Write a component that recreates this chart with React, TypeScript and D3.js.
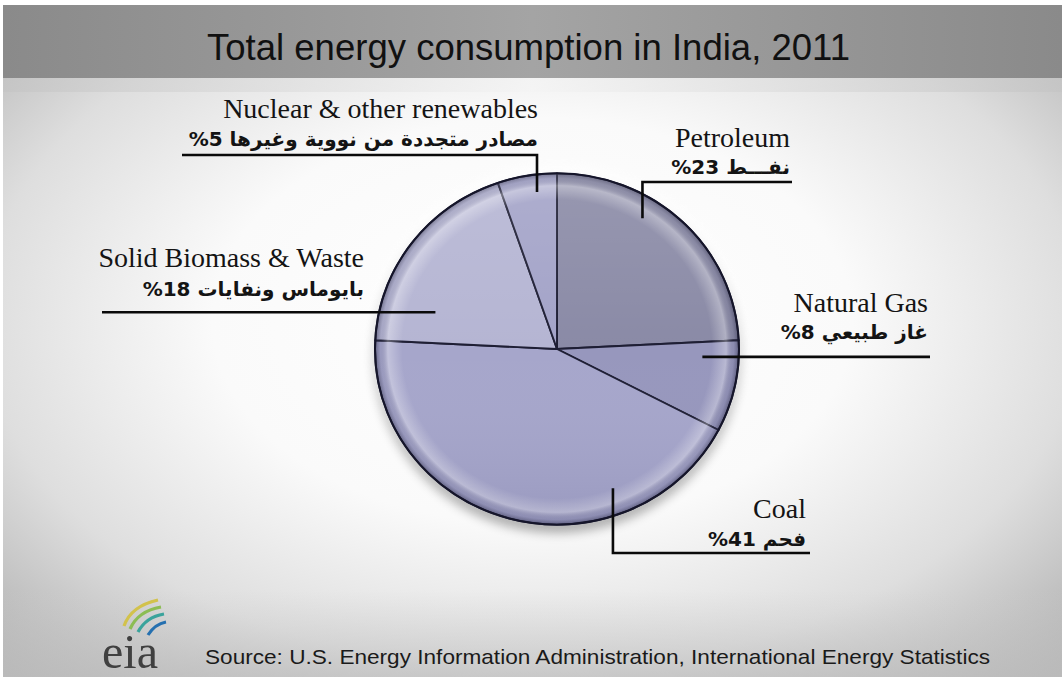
import React from "react";
import * as d3 from "d3";

// Energy mix, India 2011 (share of total consumption, %)
const categories = [
  "Petroleum",
  "Natural Gas",
  "Coal",
  "Solid Biomass & Waste",
  "Nuclear & other renewables",
];
const arabicNames = [
  "نفـــط",
  "غاز طبيعي",
  "فحم",
  "بايوماس ونفايات",
  "مصادر متجددة من نووية وغيرها",
];
const values = [23, 8, 41, 18, 5];
const sliceColors = ["#8a8aa6", "#9797bd", "#a6a6cb", "#b5b5d3", "#a3a3c8"];

const titleText = "Total energy consumption in India, 2011";
const sourceText =
  "Source: U.S. Energy Information Administration, International Energy Statistics";

const W = 1062;
const H = 677;
const cx = 557;
const cy = 349;
const R = 182;
const squash = 0.965;

// Label layout: where each leader leaves its slice (fraction across the slice,
// fraction of the radius), the leader route, and the text block position.
type Layout = {
  t: number;
  k: number;
  route: "upRight" | "right" | "downRight" | "left" | "upLeft";
  bendY?: number;
  endX: number;
  textX: number;
  line1Y: number;
  line2Y: number;
};
const layouts: Layout[] = [
  { t: 0.37, k: 0.88, route: "upRight", bendY: 182, endX: 792, textX: 790, line1Y: 147, line2Y: 174 },
  { t: 0.2, k: 0.8, route: "right", endX: 930, textX: 928, line1Y: 312, line2Y: 339 },
  { t: 0.266, k: 0.85, route: "downRight", bendY: 553, endX: 810, textX: 806, line1Y: 518, line2Y: 546 },
  { t: 0.213, k: 0.7, route: "left", endX: 102, textX: 364, line1Y: 267, line2Y: 296 },
  { t: 0.63, k: 0.9, route: "upLeft", bendY: 155, endX: 182, textX: 538, line1Y: 118, line2Y: 146 },
];

const RLM = "\u200F";

export default function App() {
  const pie = d3
    .pie<number>()
    .sort(null)
    .value((d) => d)
    .startAngle(0)
    .endAngle(2 * Math.PI);
  const arcs = pie(values);
  const arcGen = d3.arc<d3.PieArcDatum<number>>().innerRadius(0).outerRadius(R);

  const polar = (a: number, r: number): [number, number] => [
    cx + r * Math.sin(a),
    cy - r * Math.cos(a) * squash,
  ];

  const leaders = arcs.map((a, i) => {
    const L = layouts[i];
    const ang = a.startAngle + L.t * (a.endAngle - a.startAngle);
    const [x0, y0] = polar(ang, R * L.k);
    let pts: [number, number][] = [];
    if (L.route === "upRight" || L.route === "downRight" || L.route === "upLeft") {
      pts = [
        [x0, y0],
        [x0, L.bendY as number],
        [L.endX, L.bendY as number],
      ];
    } else {
      pts = [
        [x0, y0],
        [L.endX, y0],
      ];
    }
    return d3.line()(pts) as string;
  });

  return (
    <svg
      width={W}
      height={H}
      viewBox={`0 0 ${W} ${H}`}
      style={{ position: "absolute", left: 0, top: 0, display: "block" }}
    >
      <defs>
        <radialGradient id="bodyGrad" cx="0.5" cy="0.47" r="0.72">
          <stop offset="0" stopColor="#ffffff" />
          <stop offset="0.42" stopColor="#fafafa" />
          <stop offset="0.72" stopColor="#dedede" />
          <stop offset="1" stopColor="#adadad" />
        </radialGradient>
        <linearGradient id="barGrad" x1="0" x2="1" y1="0" y2="0">
          <stop offset="0" stopColor="#8a8a8a" />
          <stop offset="0.5" stopColor="#a4a4a4" />
          <stop offset="1" stopColor="#8a8a8a" />
        </linearGradient>
        <linearGradient id="bandGrad" x1="0" x2="1" y1="0" y2="0">
          <stop offset="0" stopColor="#c4c4c4" />
          <stop offset="0.5" stopColor="#f4f4f4" />
          <stop offset="1" stopColor="#c4c4c4" />
        </linearGradient>
        <linearGradient id="footGrad" x1="0" x2="0" y1="0" y2="1">
          <stop offset="0" stopColor="#d0d0d0" stopOpacity="0" />
          <stop offset="1" stopColor="#c0c0c0" stopOpacity="0.7" />
        </linearGradient>
        <radialGradient id="rimGrad" cx="0.5" cy="0.5" r="0.5">
          <stop offset="0" stopColor="#ffffff" stopOpacity="0" />
          <stop offset="0.85" stopColor="#ffffff" stopOpacity="0" />
          <stop offset="0.93" stopColor="#ffffff" stopOpacity="0.32" />
          <stop offset="0.97" stopColor="#3a3a5a" stopOpacity="0.12" />
          <stop offset="1" stopColor="#20203a" stopOpacity="0.5" />
        </radialGradient>
        <linearGradient id="lightGrad" x1="0" x2="0" y1="0" y2="1">
          <stop offset="0" stopColor="#ffffff" stopOpacity="0.12" />
          <stop offset="0.5" stopColor="#ffffff" stopOpacity="0" />
          <stop offset="1" stopColor="#000030" stopOpacity="0.08" />
        </linearGradient>
        <filter id="blurShadow" x="-20%" y="-20%" width="140%" height="140%">
          <feGaussianBlur stdDeviation="6" />
        </filter>
      </defs>

      {/* backdrop */}
      <rect x={0} y={0} width={W} height={H} fill="#ffffff" />
      <rect x={3} y={5} width={W - 3} height={H - 5} fill="url(#bodyGrad)" />
      <rect x={3} y={590} width={W - 3} height={H - 590} fill="url(#footGrad)" />
      <rect x={3} y={78} width={W - 3} height={14} fill="url(#bandGrad)" opacity={0.7} />
      <rect x={3} y={5} width={W - 3} height={73} fill="url(#barGrad)" />
      <text
        x={207}
        y={60}
        fontFamily="'Liberation Sans', Arial, sans-serif"
        fontSize={37}
        textLength={643}
        lengthAdjust="spacingAndGlyphs"
        fill="#111"
      >
        {titleText}
      </text>

      {/* pie */}
      <ellipse
        cx={cx}
        cy={cy + 7}
        rx={R}
        ry={R * squash}
        fill="#000"
        opacity={0.38}
        filter="url(#blurShadow)"
      />
      <ellipse
        cx={cx}
        cy={cy - 5}
        rx={R + 2}
        ry={R * squash + 2}
        fill="#fff"
        opacity={0.8}
        filter="url(#blurShadow)"
      />
      <g transform={`translate(${cx},${cy}) scale(1,${squash})`}>
        {arcs.map((a, i) => (
          <path
            key={categories[i]}
            d={arcGen(a) as string}
            fill={sliceColors[i]}
            stroke="#1e1e34"
            strokeWidth={1.9}
            vectorEffect="non-scaling-stroke"
            strokeLinejoin="round"
          />
        ))}
        <circle r={R} fill="url(#rimGrad)" />
        <circle r={R} fill="url(#lightGrad)" />
        <circle
          r={R}
          fill="none"
          stroke="#15152a"
          strokeWidth={2}
          vectorEffect="non-scaling-stroke"
        />
      </g>

      {/* leaders and labels */}
      {leaders.map((d, i) => (
        <path key={"l" + i} d={d} fill="none" stroke="#0a0a0a" strokeWidth={2.6} />
      ))}
      {categories.map((c, i) => {
        const L = layouts[i];
        return (
          <g key={"t" + i}>
            <text
              x={L.textX}
              y={L.line1Y}
              textAnchor="end"
              fontFamily="'Liberation Serif', 'Times New Roman', serif"
              fontSize={28}
              fill="#141414"
            >
              {c}
            </text>
            <text
              x={L.textX}
              y={L.line2Y}
              textAnchor="end"
              fontFamily="'DejaVu Sans', sans-serif"
              fontWeight="bold"
              fontSize={20}
              fill="#141414"
            >
              {`${RLM}${arabicNames[i]} ${values[i]}%${RLM}`}
            </text>
          </g>
        );
      })}

      {/* footer: logo and source */}
      <g>
        <path d="M124,626 Q131,606 158,600" fill="none" stroke="#d2c24c" strokeWidth={3.2} />
        <path d="M130,629 Q138,611 161,607" fill="none" stroke="#8cbd54" strokeWidth={3.2} />
        <path d="M138,632 Q146,617 164,614" fill="none" stroke="#3aa39c" strokeWidth={3.2} />
        <path d="M148,635 Q155,624 166,622" fill="none" stroke="#2570b0" strokeWidth={3.2} />
        <text
          x={102}
          y={668}
          fontFamily="'Liberation Serif', serif"
          fontSize={48}
          textLength={56}
          lengthAdjust="spacingAndGlyphs"
          fill="#404040"
        >
          eia
        </text>
      </g>
      <text
        x={205}
        y={664}
        fontFamily="'Liberation Sans', Arial, sans-serif"
        fontSize={21}
        textLength={785}
        lengthAdjust="spacingAndGlyphs"
        fill="#1a1a1a"
      >
        {sourceText}
      </text>
    </svg>
  );
}
